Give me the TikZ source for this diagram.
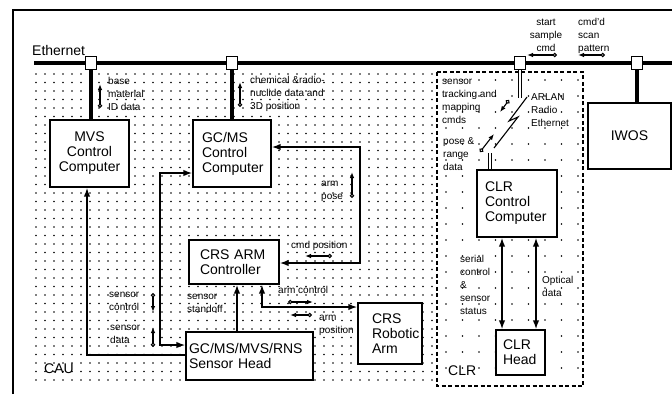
\documentclass[tikz,border=0pt]{standalone}
\usepackage{fontspec}
\setmainfont{Liberation Sans}
\usetikzlibrary{arrows.meta}
\newcommand{\lnsL}[1]{\begin{tabular}[t]{@{}l@{}}#1\end{tabular}}
\newcommand{\lnsC}[1]{\begin{tabular}[t]{@{}c@{}}#1\end{tabular}}
\tikzset{
  Big/.tip={Latex[length=9pt,width=6.5pt]},
  Sm/.tip={Latex[length=6pt,width=4.5pt]},
  Ring/.tip={Circle[fill=white,length=4.5pt]},
  box/.style={draw, fill=white, line width=1.4pt, font=\fontsize{14}{15}\selectfont, align=left, inner ysep=0pt},
  conn/.style={line width=1.5pt},
  ind/.style={line width=1.1pt, {Ring}-{Sm}},
  lbl/.style={font=\fontsize{10}{13}\selectfont, anchor=base west, inner sep=0pt},
  big/.style={font=\fontsize{14}{15}\selectfont, anchor=base west, inner sep=0pt},
  tap/.style={draw, fill=white, line width=1pt, minimum width=11pt, minimum height=13pt, inner sep=0pt},
  bus/.style={line width=3.8pt},
  hollow/.style={double, double distance=2.6pt, line width=1pt},
}
\begin{document}
\begin{tikzpicture}[x=1pt,y=-1pt]
\useasboundingbox[fill=white] (0,0) rectangle (672,394);
% dotted regions
\foreach \x in {36,45,...,432} {\foreach \y in {74,82.5,...,388} {\fill (\x,\y) circle (0.95pt);}}
\foreach \x in {446,462.5,...,578} {\foreach \y in {80,96,...,382} {\fill (\x,\y) circle (0.95pt);}}
% frame
\draw[line width=1.4pt] (13,394) -- (13,10) -- (672,10);
% CLR dashed region
\draw[line width=1.1pt, dash pattern=on 4pt off 2.5pt] (437,72) rectangle (583,386);
% Ethernet bus
\coordinate (busL) at (34,63);
\coordinate (busR) at (672,63);
\draw[bus] (busL) -- (busR);
\node[big] (eth) at (32,55) {Ethernet};
% boxes
\node[box, minimum width=79pt, minimum height=67pt, text width=75pt, inner xsep=2pt, align=center] (mvs) at (89.5,153.5) {MVS\\Control\\Computer};
\node[box, minimum width=78pt, minimum height=67pt, text width=60pt, inner xsep=9pt] (gcms) at (232,153.5) {GC/MS\\Control\\Computer};
\node[box, minimum width=90pt, minimum height=44pt, text width=68pt, inner xsep=11pt] (crs) at (234,262) {CRS ARM\\Controller};
\node[box, minimum width=127pt, minimum height=48pt, text width=121pt, inner xsep=3pt] (head) at (249.5,356) {GC/MS/MVS/RNS\\Sensor Head};
\node[box, minimum width=64pt, minimum height=61pt, text width=36pt, inner xsep=14pt] (arm) at (390,333.5) {CRS\\Robotic\\Arm};
\node[box, minimum width=80pt, minimum height=67pt, text width=64pt, inner xsep=8pt] (clrc) at (517,203.5) {CLR\\Control\\Computer};
\node[box, minimum width=49pt, minimum height=45pt, text width=35pt, inner xsep=7pt] (clrh) at (520.5,352.5) {CLR\\Head};
\node[box, minimum width=83pt, minimum height=66pt, text width=79pt, inner xsep=2pt, align=center] (iwos) at (629.5,136) {IWOS};
% taps
\node[tap] (t1) at (91,63) {};
\node[tap] (t2) at (232,63) {};
\node[tap] (t3) at (520,63) {};
\node[tap] (t4) at (637,63) {};
\draw[bus] (t1.south) -- (t1.south |- mvs.north);
\draw[bus] (t2.south) -- (gcms.north);
\draw[bus] (t4.south) -- (t4.south |- iwos.north);
\coordinate (radioA) at (520,98);
\draw[hollow] (t3.south) -- (radioA);
\coordinate (radioB) at (490,153);
\draw[hollow] (radioB) -- (radioB |- clrc.north);
\draw[line width=1.1pt] (527,97) -- (509,121) -- (518,117) -- (494,148);
% main connectors
\draw[conn, -{Big}] (head.west |- 0,355) -| ([xshift=-2.5pt]mvs.south);
\draw[conn, {Big}-{Big}] (head.west |- 0,345) -| (160,173) -- (gcms.west |- 0,173);
\draw[conn, -{Big}] (head.north -| 237,0) -- (crs.south -| 237,0);
\draw[conn, {Big}-{Big}] (crs.south -| 262,0) |- (arm.west |- 0,307);
\draw[conn, {Big}-{Big}] (gcms.east |- 0,147) -| (360,263) -- (crs.east |- 0,263);
\draw[conn, {Big}-{Big}] (clrc.south -| 502,0) -- (clrh.north -| 502,0);
\draw[conn, {Big}-{Big}] (clrc.south -| 536,0) -- (clrh.north -| 536,0);
% signal indicators
\draw[ind] (100,108) -- (100,84);
\draw[ind] (240,107) -- (240,82);
\draw[ind] (557,55) -- (527,55);
\draw[ind] (605,55) -- (578,55);
\draw[ind] (352,198) -- (352,172);
\draw[ind] (332,256) -- (305,256);
\draw[ind] (288,302) -- (313,302);
\draw[ind] (312,315) -- (290,315);
\draw[ind] (153,293) -- (153,312);
\draw[ind] (153,347) -- (153,327);
\draw[ind] (480,152) -- (494,134);
\draw[ind] (509,100) -- (500,112);
% labels
\node[lbl] (l1) at (108,84) {\lnsL{base\\material\\ID data}};
\node[lbl] (l2) at (250,83.5) {\lnsL{chemical \&radio-\\nuclide data and\\3D position}};
\node[lbl, anchor=base] (l3) at (546,25) {\lnsC{start\\sample\\cmd}};
\node[lbl] (l4) at (578,25) {\lnsL{cmd'd\\scan\\pattern}};
\node[lbl] (l5) at (442,84) {\lnsL{sensor\\tracking and\\mapping\\cmds}};
\node[lbl] (l6) at (531,100) {\lnsL{ARLAN\\Radio\\Ethernet}};
\node[lbl] (l7) at (443,144) {\lnsL{pose \&\\range\\data}};
\node[lbl] (l8) at (321,186) {\lnsL{arm\\pose}};
\node[lbl] (l9) at (291,248) {cmd position};
\node[lbl] (l10) at (278,293) {arm control};
\node[lbl] (l11) at (319,320) {\lnsL{arm\\position}};
\node[lbl] (l12) at (109,297) {\lnsL{sensor\\control}};
\node[lbl] (l13) at (110,330) {\lnsL{sensor\\data}};
\node[lbl] (l14) at (187,299) {\lnsL{sensor\\standoff}};
\node[lbl] (l15) at (460,262) {\lnsL{serial\\control\\\&\\sensor\\status}};
\node[lbl] (l16) at (542,283) {\lnsL{Optical\\data}};
\node[big] (cau) at (44,373) {CAU};
\node[big] (clr) at (448,375) {CLR};
\end{tikzpicture}
\end{document}
